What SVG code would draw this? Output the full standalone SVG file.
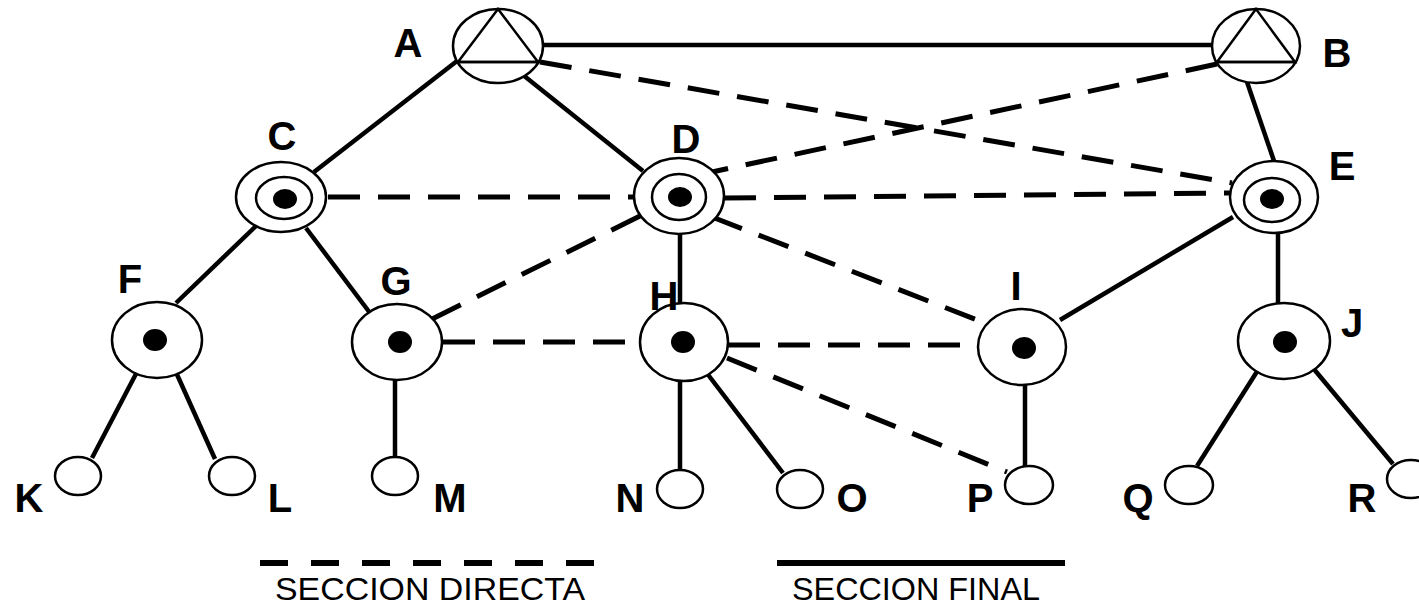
<svg xmlns="http://www.w3.org/2000/svg" width="1419" height="607" viewBox="0 0 1419 607">
<style>
.bg{fill:#fff}
.sol{stroke:#000;stroke-width:4.5;fill:none;stroke-linecap:butt}
.das{stroke:#000;stroke-width:5;fill:none;stroke-dasharray:32 18}
.nd{fill:#fff;stroke:#000;stroke-width:2.5}
.ln{fill:none;stroke:#000;stroke-width:2.5}
.dot{fill:#000}
.lbl{font-family:"Liberation Sans",Arial,sans-serif;font-weight:bold;font-size:40px;text-anchor:middle;fill:#000}
.leg{font-family:"Liberation Sans",Arial,sans-serif;font-size:32px;fill:#000}
</style>
<rect class="bg" x="0" y="0" width="1419" height="607"/>
<g id="connectors">
<line class="sol" x1="543" y1="45" x2="1212" y2="45"/>
<line class="sol" x1="457" y1="61" x2="314" y2="172"/>
<line class="sol" x1="523" y1="75" x2="643" y2="171"/>
<line class="sol" x1="1247" y1="82" x2="1274" y2="161"/>
<line class="sol" x1="256" y1="226" x2="176" y2="303"/>
<line class="sol" x1="306" y1="228" x2="370" y2="313"/>
<line class="sol" x1="680" y1="233" x2="680" y2="304"/>
<line class="sol" x1="1233" y1="217" x2="1060" y2="320"/>
<line class="sol" x1="1278" y1="232" x2="1278" y2="304"/>
<line class="sol" x1="138" y1="370" x2="92" y2="458"/>
<line class="sol" x1="175" y1="370" x2="215" y2="459"/>
<line class="sol" x1="395" y1="379" x2="395" y2="458"/>
<line class="sol" x1="680" y1="380" x2="680" y2="471"/>
<line class="sol" x1="706" y1="372" x2="783" y2="473"/>
<line class="sol" x1="1025" y1="384" x2="1025" y2="467"/>
<line class="sol" x1="1258" y1="370" x2="1197" y2="466"/>
<line class="sol" x1="1313" y1="368" x2="1393" y2="464"/>
<line class="das" x1="540" y1="62" x2="1232" y2="183"/>
<line class="das" x1="1217" y1="64" x2="712" y2="172"/>
<line class="das" x1="328" y1="197" x2="633" y2="197"/>
<line class="das" x1="724" y1="198" x2="1230" y2="193"/>
<line class="das" x1="640" y1="216" x2="432" y2="319"/>
<line class="das" x1="712" y1="217" x2="985" y2="323"/>
<line class="das" x1="443" y1="342" x2="640" y2="342"/>
<line class="das" x1="728" y1="345" x2="978" y2="345"/>
<line class="das" x1="727" y1="358" x2="1007" y2="472"/>
</g>
<g id="node-A">
<ellipse class="nd" cx="498" cy="46" rx="45" ry="37"/>
<polygon class="ln" points="498,9 458,62 538,62"/>
<line class="ln" x1="457" y1="62" x2="539" y2="62"/>
<text class="lbl" x="408" y="57">A</text>
</g>
<g id="node-B">
<ellipse class="nd" cx="1256" cy="46" rx="44" ry="37"/>
<polygon class="ln" points="1256,9 1217,62 1295,62"/>
<line class="ln" x1="1215" y1="62" x2="1297" y2="62"/>
<text class="lbl" x="1337" y="67">B</text>
</g>
<g id="node-C">
<ellipse class="nd" cx="281" cy="197" rx="45" ry="35"/>
<ellipse class="ln" cx="284" cy="198" rx="28" ry="21"/>
<ellipse class="dot" cx="285" cy="199" rx="12" ry="10"/>
<text class="lbl" x="282" y="150">C</text>
</g>
<g id="node-D">
<ellipse class="nd" cx="679" cy="196" rx="45" ry="38"/>
<ellipse class="ln" cx="679" cy="197" rx="27" ry="23"/>
<ellipse class="dot" cx="680" cy="197" rx="12" ry="10"/>
<text class="lbl" x="686" y="153">D</text>
</g>
<g id="node-E">
<ellipse class="nd" cx="1274" cy="197" rx="44" ry="36"/>
<ellipse class="ln" cx="1272" cy="200" rx="28" ry="22"/>
<ellipse class="dot" cx="1272" cy="199" rx="12" ry="10"/>
<text class="lbl" x="1342" y="180">E</text>
</g>
<g id="node-F">
<ellipse class="nd" cx="157" cy="340" rx="45" ry="38"/>
<ellipse class="dot" cx="155" cy="340" rx="12" ry="11"/>
<text class="lbl" x="130" y="293">F</text>
</g>
<g id="node-G">
<ellipse class="nd" cx="397" cy="342" rx="45" ry="38"/>
<ellipse class="dot" cx="400" cy="342" rx="12" ry="11"/>
<text class="lbl" x="396" y="295">G</text>
</g>
<g id="node-H">
<ellipse class="nd" cx="684" cy="342" rx="44" ry="39"/>
<ellipse class="dot" cx="683" cy="342" rx="12" ry="11"/>
<text class="lbl" x="664" y="310">H</text>
</g>
<g id="node-I">
<ellipse class="nd" cx="1022" cy="347" rx="44" ry="38"/>
<ellipse class="dot" cx="1024" cy="348" rx="12" ry="11"/>
<text class="lbl" x="1016" y="300">I</text>
</g>
<g id="node-J">
<ellipse class="nd" cx="1284" cy="341" rx="46" ry="38"/>
<ellipse class="dot" cx="1285" cy="342" rx="12" ry="11"/>
<text class="lbl" x="1352" y="337">J</text>
</g>
<g id="node-K"><ellipse class="nd" cx="78" cy="476" rx="23" ry="19"/><text class="lbl" x="29" y="512">K</text></g>
<g id="node-L"><ellipse class="nd" cx="232" cy="476" rx="23" ry="19"/><text class="lbl" x="280" y="512">L</text></g>
<g id="node-M"><ellipse class="nd" cx="395" cy="476" rx="23" ry="19"/><text class="lbl" x="450" y="512">M</text></g>
<g id="node-N"><ellipse class="nd" cx="680" cy="489" rx="23" ry="19"/><text class="lbl" x="630" y="512">N</text></g>
<g id="node-O"><ellipse class="nd" cx="800" cy="489" rx="23" ry="19"/><text class="lbl" x="852" y="512">O</text></g>
<g id="node-P"><ellipse class="nd" cx="1029" cy="485" rx="24" ry="19"/><text class="lbl" x="980" y="512">P</text></g>
<g id="node-Q"><ellipse class="nd" cx="1189" cy="485" rx="24" ry="19"/><text class="lbl" x="1138" y="512">Q</text></g>
<g id="node-R"><ellipse class="nd" cx="1411" cy="479" rx="24" ry="19"/><text class="lbl" x="1362" y="512">R</text></g>
<g id="legend">
<line x1="260" y1="563" x2="603" y2="563" stroke="#000" stroke-width="6" stroke-dasharray="28 23"/>
<line x1="777" y1="563" x2="1065" y2="563" stroke="#000" stroke-width="6"/>
<text class="leg" x="275" y="600" textLength="310" lengthAdjust="spacingAndGlyphs">SECCION DIRECTA</text>
<text class="leg" x="792" y="600" textLength="248" lengthAdjust="spacingAndGlyphs">SECCION FINAL</text>
</g>
</svg>
